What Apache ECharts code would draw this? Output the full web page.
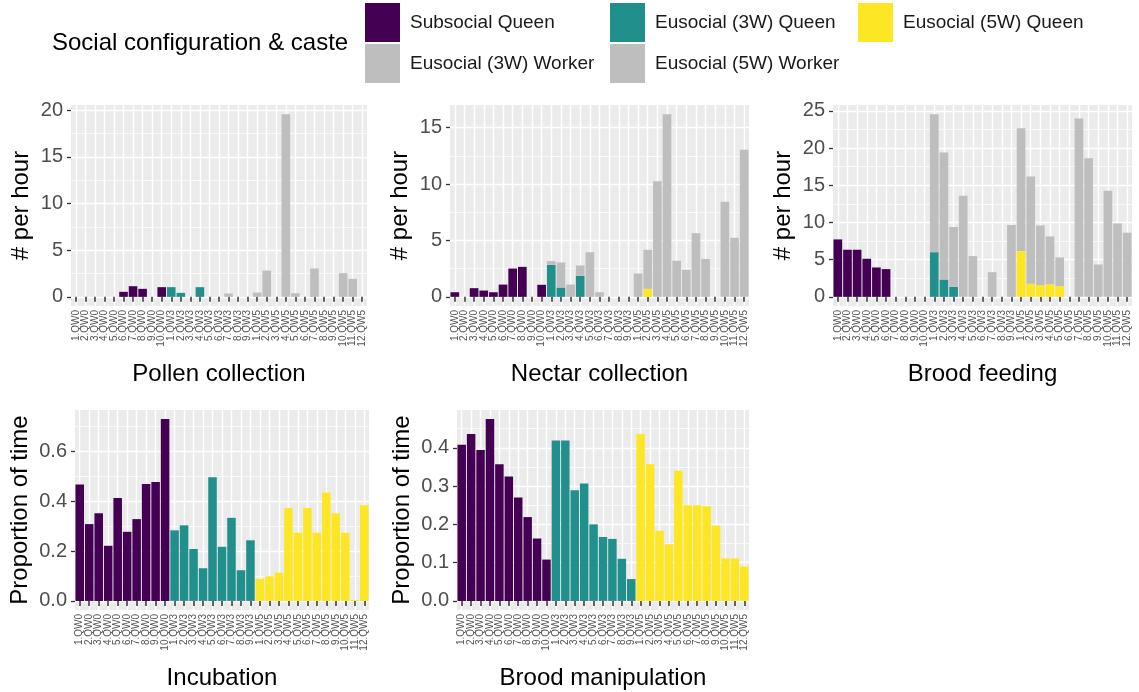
<!DOCTYPE html>
<html><head><meta charset="utf-8">
<script src="https://cdn.jsdelivr.net/npm/echarts@6/dist/echarts.min.js"></script>
<style>html,body{margin:0;padding:0;background:#fff}#c{width:1139px;height:692px}</style>
</head><body><div id="c"></div><script>
// ---------------- data ----------------
const categories = [
  '1.QW0','2.QW0','3.QW0','4.QW0','5.QW0','6.QW0','7.QW0','8.QW0','9.QW0','10.QW0',
  '1.QW3','2.QW3','3.QW3','4.QW3','5.QW3','6.QW3','7.QW3','8.QW3','9.QW3',
  '1.QW5','2.QW5','3.QW5','4.QW5','5.QW5','6.QW5','7.QW5','8.QW5','9.QW5','10.QW5','11.QW5','12.QW5'
];
const seriesNames = ['Subsocial Queen','Eusocial (3W) Queen','Eusocial (5W) Queen','Eusocial (3W) Worker','Eusocial (5W) Worker'];

const pollenQueen  = [0,0,0,0,0,0.54,1.14,0.86,0,1.04, 1.04,0.43,0,1.04,0,0,0,0,0, 0,0,0,0,0,0,0,0,0,0,0,0];
const pollenWorker = [0,0,0,0,0,0,0,0,0,0, 0,0,0,0,0,0,0.36,0,0, 0.46,2.82,0,19.57,0.39,0,3.04,0,0,2.54,1.93,0];

const nectarQueen  = [0.41,0,0.77,0.56,0.41,1.09,2.51,2.66,0,1.07, 2.84,0.83,0,1.86,0,0,0,0,0, 0,0.71,0,0,0,0,0,0,0,0,0,0];
const nectarWorker = [0,0,0,0,0,0,0,0,0,0, 0.33,2.22,1.09,0.92,3.96,0.41,0,0,0, 2.07,3.46,10.24,16.2,3.2,2.4,5.65,3.37,0,8.43,5.24,13.05];

const feedingQueen  = [7.72,6.33,6.33,5.12,3.95,3.73,0,0,0,0, 6.01,2.33,1.35,0,0,0,0,0,0, 6.15,1.75,1.57,1.7,1.44,0,0,0,0,0,0,0];
const feedingWorker = [0,0,0,0,0,0,0,0,0,0, 18.54,17.06,8.03,13.6,5.48,0,3.32,0,9.65, 16.52,14.41,8.03,6.42,3.86,0,23.97,18.63,4.35,14.27,9.87,8.62];

const incubationQueen = [0.467,0.308,0.351,0.221,0.413,0.277,0.328,0.469,0.477,0.729,
  0.283,0.303,0.208,0.131,0.496,0.217,0.333,0.123,0.243,
  0.088,0.099,0.113,0.373,0.273,0.373,0.273,0.435,0.351,0.273,0.004,0.384];
const manipulationQueen = [0.408,0.436,0.394,0.475,0.357,0.325,0.270,0.219,0.163,0.108,
  0.419,0.419,0.289,0.307,0.200,0.167,0.162,0.110,0.057,
  0.436,0.357,0.183,0.148,0.340,0.250,0.250,0.247,0.197,0.111,0.111,0.090];

const pollenTicks = [0,5,10,15,20];
const nectarTicks = [0,5,10,15];
const feedingTicks = [0,5,10,15,20,25];
const incubationTicks = [0,0.2,0.4,0.6];
const manipulationTicks = [0,0.1,0.2,0.3,0.4];

// ---------------- layout / styles ----------------
const FONT = 'Liberation Sans, Arial, Helvetica, sans-serif';
const colorOf = {
  'Subsocial Queen':'#440154','Eusocial (3W) Queen':'#21908C','Eusocial (5W) Queen':'#FDE725',
  'Eusocial (3W) Worker':'#BEBEBE','Eusocial (5W) Worker':'#BEBEBE'
};
const groupRange = [[0,9],[10,18],[19,30]];

const panels = [
  {title:'Pollen collection', ytitle:'# per hour', queen:pollenQueen, worker:pollenWorker, ticks:pollenTicks, dec:0,
   grid:{left:71, top:105, width:296, height:201}, ygap:38},
  {title:'Nectar collection', ytitle:'# per hour', queen:nectarQueen, worker:nectarWorker, ticks:nectarTicks, dec:0,
   grid:{left:450, top:105, width:299, height:201}, ygap:38},
  {title:'Brood feeding', ytitle:'# per hour', queen:feedingQueen, worker:feedingWorker, ticks:feedingTicks, dec:0,
   grid:{left:833, top:105, width:299, height:201}, ygap:38},
  {title:'Incubation', ytitle:'Proportion of time', queen:incubationQueen, worker:null, ticks:incubationTicks, dec:1,
   grid:{left:75, top:410, width:294, height:200}, ygap:43},
  {title:'Brood manipulation', ytitle:'Proportion of time', queen:manipulationQueen, worker:null, ticks:manipulationTicks, dec:1,
   grid:{left:457, top:410, width:292, height:200}, ygap:43}
];

function mask(arr, r){ return arr.map((v,i)=> (i>=r[0] && i<=r[1]) ? v : '-'); }
const halfSteps = [];
for (let k=0;k<=2*categories.length;k++) halfSteps.push('h'+k);

const grids=[], xAxes=[], yAxes=[], series=[];
panels.forEach((p, pi) => {
  grids.push(Object.assign({show:true, backgroundColor:'#EBEBEB', borderWidth:0}, p.grid));
  const totals = p.queen.map((q,i)=> q + (p.worker ? p.worker[i] : 0));
  const maxv = Math.max.apply(null, totals);
  const ymin = -0.05*maxv, ymax = 1.05*maxv;
  const step = p.ticks[1]-p.ticks[0];
  const minors = [];
  for (let v = step/2; v < ymax; v += step) minors.push(+v.toFixed(4));

  xAxes.push({
    type:'category', gridIndex:pi, data:categories, boundaryGap:true,
    axisLine:{show:false},
    axisTick:{show:true, alignWithLabel:true, length:5, lineStyle:{color:'#333333', width:1.5}},
    axisLabel:{rotate:90, interval:0, fontSize:10, color:'#555555', margin:4, fontFamily:FONT},
    splitLine:{show:false},
    name:p.title, nameLocation:'middle', nameGap:56,
    nameTextStyle:{fontSize:24, color:'#000', fontFamily:FONT}
  });
  yAxes.push({
    type:'value', gridIndex:pi, min:ymin, max:ymax,
    axisLine:{show:false},
    axisTick:{show:true, length:4, lineStyle:{color:'#333333', width:1.3}, customValues:p.ticks},
    axisLabel:{fontSize:20, color:'#4D4D4D', margin:8, fontFamily:FONT, customValues:p.ticks,
      formatter:(v)=> Number(v).toFixed(p.dec)},
    splitLine:{show:true, lineStyle:{color:'#FFFFFF', width:1.4}},
    name:p.ytitle, nameLocation:'middle', nameGap:p.ygap,
    nameTextStyle:{fontSize:24, color:'#000', fontFamily:FONT}
  });
  p._minors = minors; p._ymin = ymin; p._ymax = ymax;

  const names = p.worker ? seriesNames : seriesNames.slice(0,3);
  names.forEach((nm, si) => {
    const src = si < 3 ? p.queen : p.worker;
    const r = groupRange[si < 3 ? si : si - 2];
    series.push({
      type:'bar', name:nm, xAxisIndex:pi, yAxisIndex:pi, stack:'s'+pi,
      barWidth:'90%', data:mask(src, r), itemStyle:{color:colorOf[nm]},
      emphasis:{disabled:true}, silent:true, animation:false
    });
  });
});
// helper axes for ggplot-style grid lines (vertical at category centres, minor horizontal)
panels.forEach((p, pi) => {
  xAxes.push({
    type:'category', gridIndex:pi, data:halfSteps, boundaryGap:false, position:'bottom',
    axisLine:{show:false}, axisTick:{show:false}, axisLabel:{show:false},
    splitLine:{show:true, interval:(i)=> i%2===1, lineStyle:{color:'#FFFFFF', width:1.4}}
  });
  yAxes.push({
    type:'value', gridIndex:pi, min:p._ymin, max:p._ymax, position:'left',
    axisLine:{show:false}, axisTick:{show:false, customValues:p._minors}, axisLabel:{show:false, customValues:p._minors},
    splitLine:{show:true, lineStyle:{color:'#FFFFFF', width:0.7}}
  });
});

const legendPos = {
  'Subsocial Queen':[365,3], 'Eusocial (3W) Worker':[365,44],
  'Eusocial (3W) Queen':[610,3], 'Eusocial (5W) Worker':[610,44],
  'Eusocial (5W) Queen':[858,3]
};
const legends = seriesNames.map(nm => ({
  data:[nm], left:legendPos[nm][0], top:legendPos[nm][1], padding:0,
  itemWidth:35, itemHeight:39, icon:'rect', selectedMode:false,
  itemStyle:{borderWidth:0},
  textStyle:{fontSize:19, color:'#1A1A1A', fontFamily:FONT, padding:[0,0,0,5]}
}));

const chart = echarts.init(document.getElementById('c'), null, {renderer:'canvas'});
chart.setOption({
  animation:false,
  backgroundColor:'#FFFFFF',
  grid:grids, xAxis:xAxes, yAxis:yAxes, series:series, legend:legends,
  graphic:[{type:'text', left:52, top:31, style:{text:'Social configuration & caste', fontSize:24, fill:'#000', fontFamily:FONT}}]
});
</script></body></html>
